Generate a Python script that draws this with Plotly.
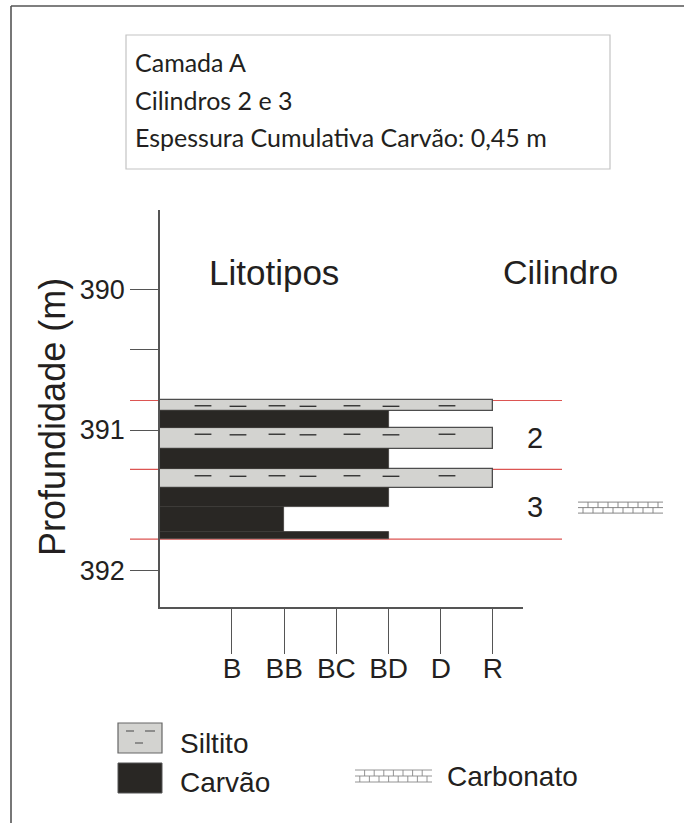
import plotly.graph_objects as go

# ---------------- data ----------------
categories = ["B", "BB", "BC", "BD", "D", "R"]
cat_pos = [1, 2, 3, 4, 5, 6]
layer_top = [390.79, 390.865, 390.985, 391.135, 391.28, 391.41, 391.55, 391.725]
layer_bottom = [390.865, 390.985, 391.135, 391.28, 391.41, 391.55, 391.725, 391.775]
layer_litho = ["Siltito", "Carvão", "Siltito", "Carvão", "Siltito", "Carvão", "Carvão", "Carvão"]
layer_extent = ["R", "BD", "R", "BD", "R", "BD", "BB", "BD"]
cylinder_names = ["2", "3"]
cylinder_top = [390.79, 391.28]
cylinder_bottom = [391.28, 391.775]
carbonate_depth = [391.555]
depth_ticks = [390, 390.43, 391, 392]
depth_tick_text = ["390", "", "391", "392"]
info_lines = ["Camada A", "Cilindros 2 e 3", "Espessura Cumulativa Carvão: 0,45 m"]
legend_items = ["Siltito", "Carvão", "Carbonato"]

# ---------------- layout geometry (pixel frame) ----------------
W, H = 684, 823
L, R_EDGE, T, B_EDGE = 160, 523, 210, 607
XMIN, XMAX = -0.379, 6.575
YTOP, YBOT = 389.436, 392.258
FONT = "Liberation Sans, Arial, sans-serif"
INK = "#231f20"
AX = "#555555"
SILT_FILL = "#d3d3d0"
COAL_FILL = "#292724"


def d_to_px(d):
    return T + (d - YTOP) / (YBOT - YTOP) * (B_EDGE - T)


def pxx(p):
    return (p - L) / (R_EDGE - L)


def pxy(p):
    return (B_EDGE - p) / (B_EDGE - T)


def label(text, x, y, size, anchor="center", family=FONT, angle=0):
    return dict(text=text, xref="paper", yref="paper", x=pxx(x), y=pxy(y),
                xanchor=anchor, yanchor="middle", textangle=angle, showarrow=False,
                font=dict(family=family, size=size, color=INK))


pos_of = dict(zip(categories, cat_pos))

fig = go.Figure()

# lithotype bars
for litho, fill, lw, lc in [("Siltito", SILT_FILL, 1.3, "#4d4d4d"), ("Carvão", COAL_FILL, 0.8, "#3d3b38")]:
    idx = [i for i, l in enumerate(layer_litho) if l == litho]
    fig.add_trace(go.Bar(
        orientation="h",
        y=[(layer_top[i] + layer_bottom[i]) / 2 for i in idx],
        x=[pos_of[layer_extent[i]] - XMIN for i in idx],
        base=[XMIN] * len(idx),
        width=[layer_bottom[i] - layer_top[i] for i in idx],
        marker=dict(color=fill, line=dict(color=lc, width=lw)),
        showlegend=False, hoverinfo="skip",
    ))

# siltito texture dashes
dash_offsets = [0.445, 1.115, 1.862, 2.456, 3.299, 4.046, 5.119]
dx, dy = [], []
for i, l in enumerate(layer_litho):
    if l == "Siltito":
        yy = layer_top[i] + min(0.045, (layer_bottom[i] - layer_top[i]) / 2)
        for k, o in enumerate(dash_offsets):
            dx.append(o)
            dy.append(yy + (0.004 if k % 2 else 0))
fig.add_trace(go.Scatter(
    x=dx, y=dy, mode="markers",
    marker=dict(symbol="line-ew", size=12, line=dict(width=1.4, color="#333333")),
    showlegend=False, hoverinfo="skip",
))

shapes = []
annotations = []

# cylinder boundary red lines
for d in sorted(set(cylinder_top + cylinder_bottom)):
    yy = pxy(d_to_px(d))
    shapes.append(dict(type="line", xref="paper", yref="paper", layer="below",
                       x0=pxx(130), x1=pxx(562), y0=yy, y1=yy,
                       line=dict(color="#dc5552", width=1.2)))

# cylinder labels
for name, t, b in zip(cylinder_names, cylinder_top, cylinder_bottom):
    annotations.append(label(name, 535, d_to_px((t + b) / 2) + 3, 29))


def bricks(x0, x1, y0, y1, bw, color="#7a7a7a"):
    out = []
    ym = (y0 + y1) / 2
    for yy in (y0, ym, y1):
        out.append(dict(type="line", xref="paper", yref="paper",
                        x0=pxx(x0), x1=pxx(x1), y0=pxy(yy), y1=pxy(yy),
                        line=dict(color=color, width=0.9)))
    xx = x0 + bw
    while xx < x1 - 1:
        out.append(dict(type="line", xref="paper", yref="paper",
                        x0=pxx(xx), x1=pxx(xx), y0=pxy(y0), y1=pxy(ym),
                        line=dict(color=color, width=0.9)))
        xx += bw
    xx = x0 + bw / 2
    while xx < x1 - 1:
        out.append(dict(type="line", xref="paper", yref="paper",
                        x0=pxx(xx), x1=pxx(xx), y0=pxy(ym), y1=pxy(y1),
                        line=dict(color=color, width=0.9)))
        xx += bw
    return out


# carbonate marker in the cylinder column
for d in carbonate_depth:
    yc = d_to_px(d)
    shapes += bricks(578, 663, yc - 6, yc + 5, 10)

# headers
annotations.append(label("Litotipos", 274, 272, 35))
annotations.append(label("Cilindro", 560, 272, 34))

# y title
annotations.append(label("Profundidade (m)", 52, 417, 36, angle=-90))

# info box
shapes.append(dict(type="rect", xref="paper", yref="paper",
                   x0=pxx(126), x1=pxx(610), y0=pxy(35), y1=pxy(169),
                   line=dict(color="#c4c4c4", width=1.2), fillcolor="rgba(0,0,0,0)"))
for txt, yc in zip(info_lines, [62, 100, 137]):
    annotations.append(label(txt, 133, yc, 25, anchor="left", family="Lato, Open Sans, sans-serif"))

# outer frame
shapes.append(dict(type="line", xref="paper", yref="paper", x0=pxx(11), x1=pxx(684),
                   y0=pxy(6), y1=pxy(6), line=dict(color=AX, width=1.6)))
shapes.append(dict(type="line", xref="paper", yref="paper", x0=pxx(11), x1=pxx(11),
                   y0=pxy(6), y1=pxy(823), line=dict(color=AX, width=1.6)))

# legend
shapes.append(dict(type="rect", xref="paper", yref="paper", x0=pxx(118), x1=pxx(162),
                   y0=pxy(723), y1=pxy(753), fillcolor=SILT_FILL, line=dict(color="#666", width=1.2)))
for (a, b, yy) in [(126, 134, 731), (145, 155, 731), (135, 143, 743)]:
    shapes.append(dict(type="line", xref="paper", yref="paper", x0=pxx(a), x1=pxx(b),
                       y0=pxy(yy), y1=pxy(yy), line=dict(color="#555", width=1.1)))
shapes.append(dict(type="rect", xref="paper", yref="paper", x0=pxx(118), x1=pxx(162),
                   y0=pxy(763), y1=pxy(793), fillcolor=COAL_FILL, line=dict(color="#555", width=1)))
shapes += bricks(355, 432, 770, 782, 9.6, color="#888")
for txt, x, yc in zip(legend_items, [178, 178, 445], [743, 782, 776]):
    annotations.append(label(txt, x, yc, 28, anchor="left"))

fig.update_layout(
    width=W, height=H,
    margin=dict(l=L, r=W - R_EDGE, t=T, b=H - B_EDGE, pad=0),
    paper_bgcolor="white", plot_bgcolor="rgba(0,0,0,0)",
    barmode="overlay", bargap=0,
    shapes=shapes, annotations=annotations,
    xaxis=dict(range=[XMIN, XMAX], tickvals=cat_pos, ticktext=categories,
               ticks="outside", ticklen=45, tickwidth=1.2, tickcolor=AX,
               ticklabelstandoff=-9,
               showline=True, linecolor=AX, linewidth=1.5,
               showgrid=False, zeroline=False,
               tickfont=dict(family=FONT, size=28, color=INK)),
    yaxis=dict(range=[YBOT, YTOP], tickvals=depth_ticks, ticktext=depth_tick_text,
               ticks="outside", ticklen=28, tickwidth=1.2, tickcolor=AX,
               showline=True, linecolor=AX, linewidth=1.5,
               showgrid=False, zeroline=False,
               tickfont=dict(family=FONT, size=27, color=INK)),
    showlegend=False,
)

fig.write_html("out.html", config={"displayModeBar": False},
               post_script="document.body.style.margin='0';document.body.style.overflow='hidden';")
